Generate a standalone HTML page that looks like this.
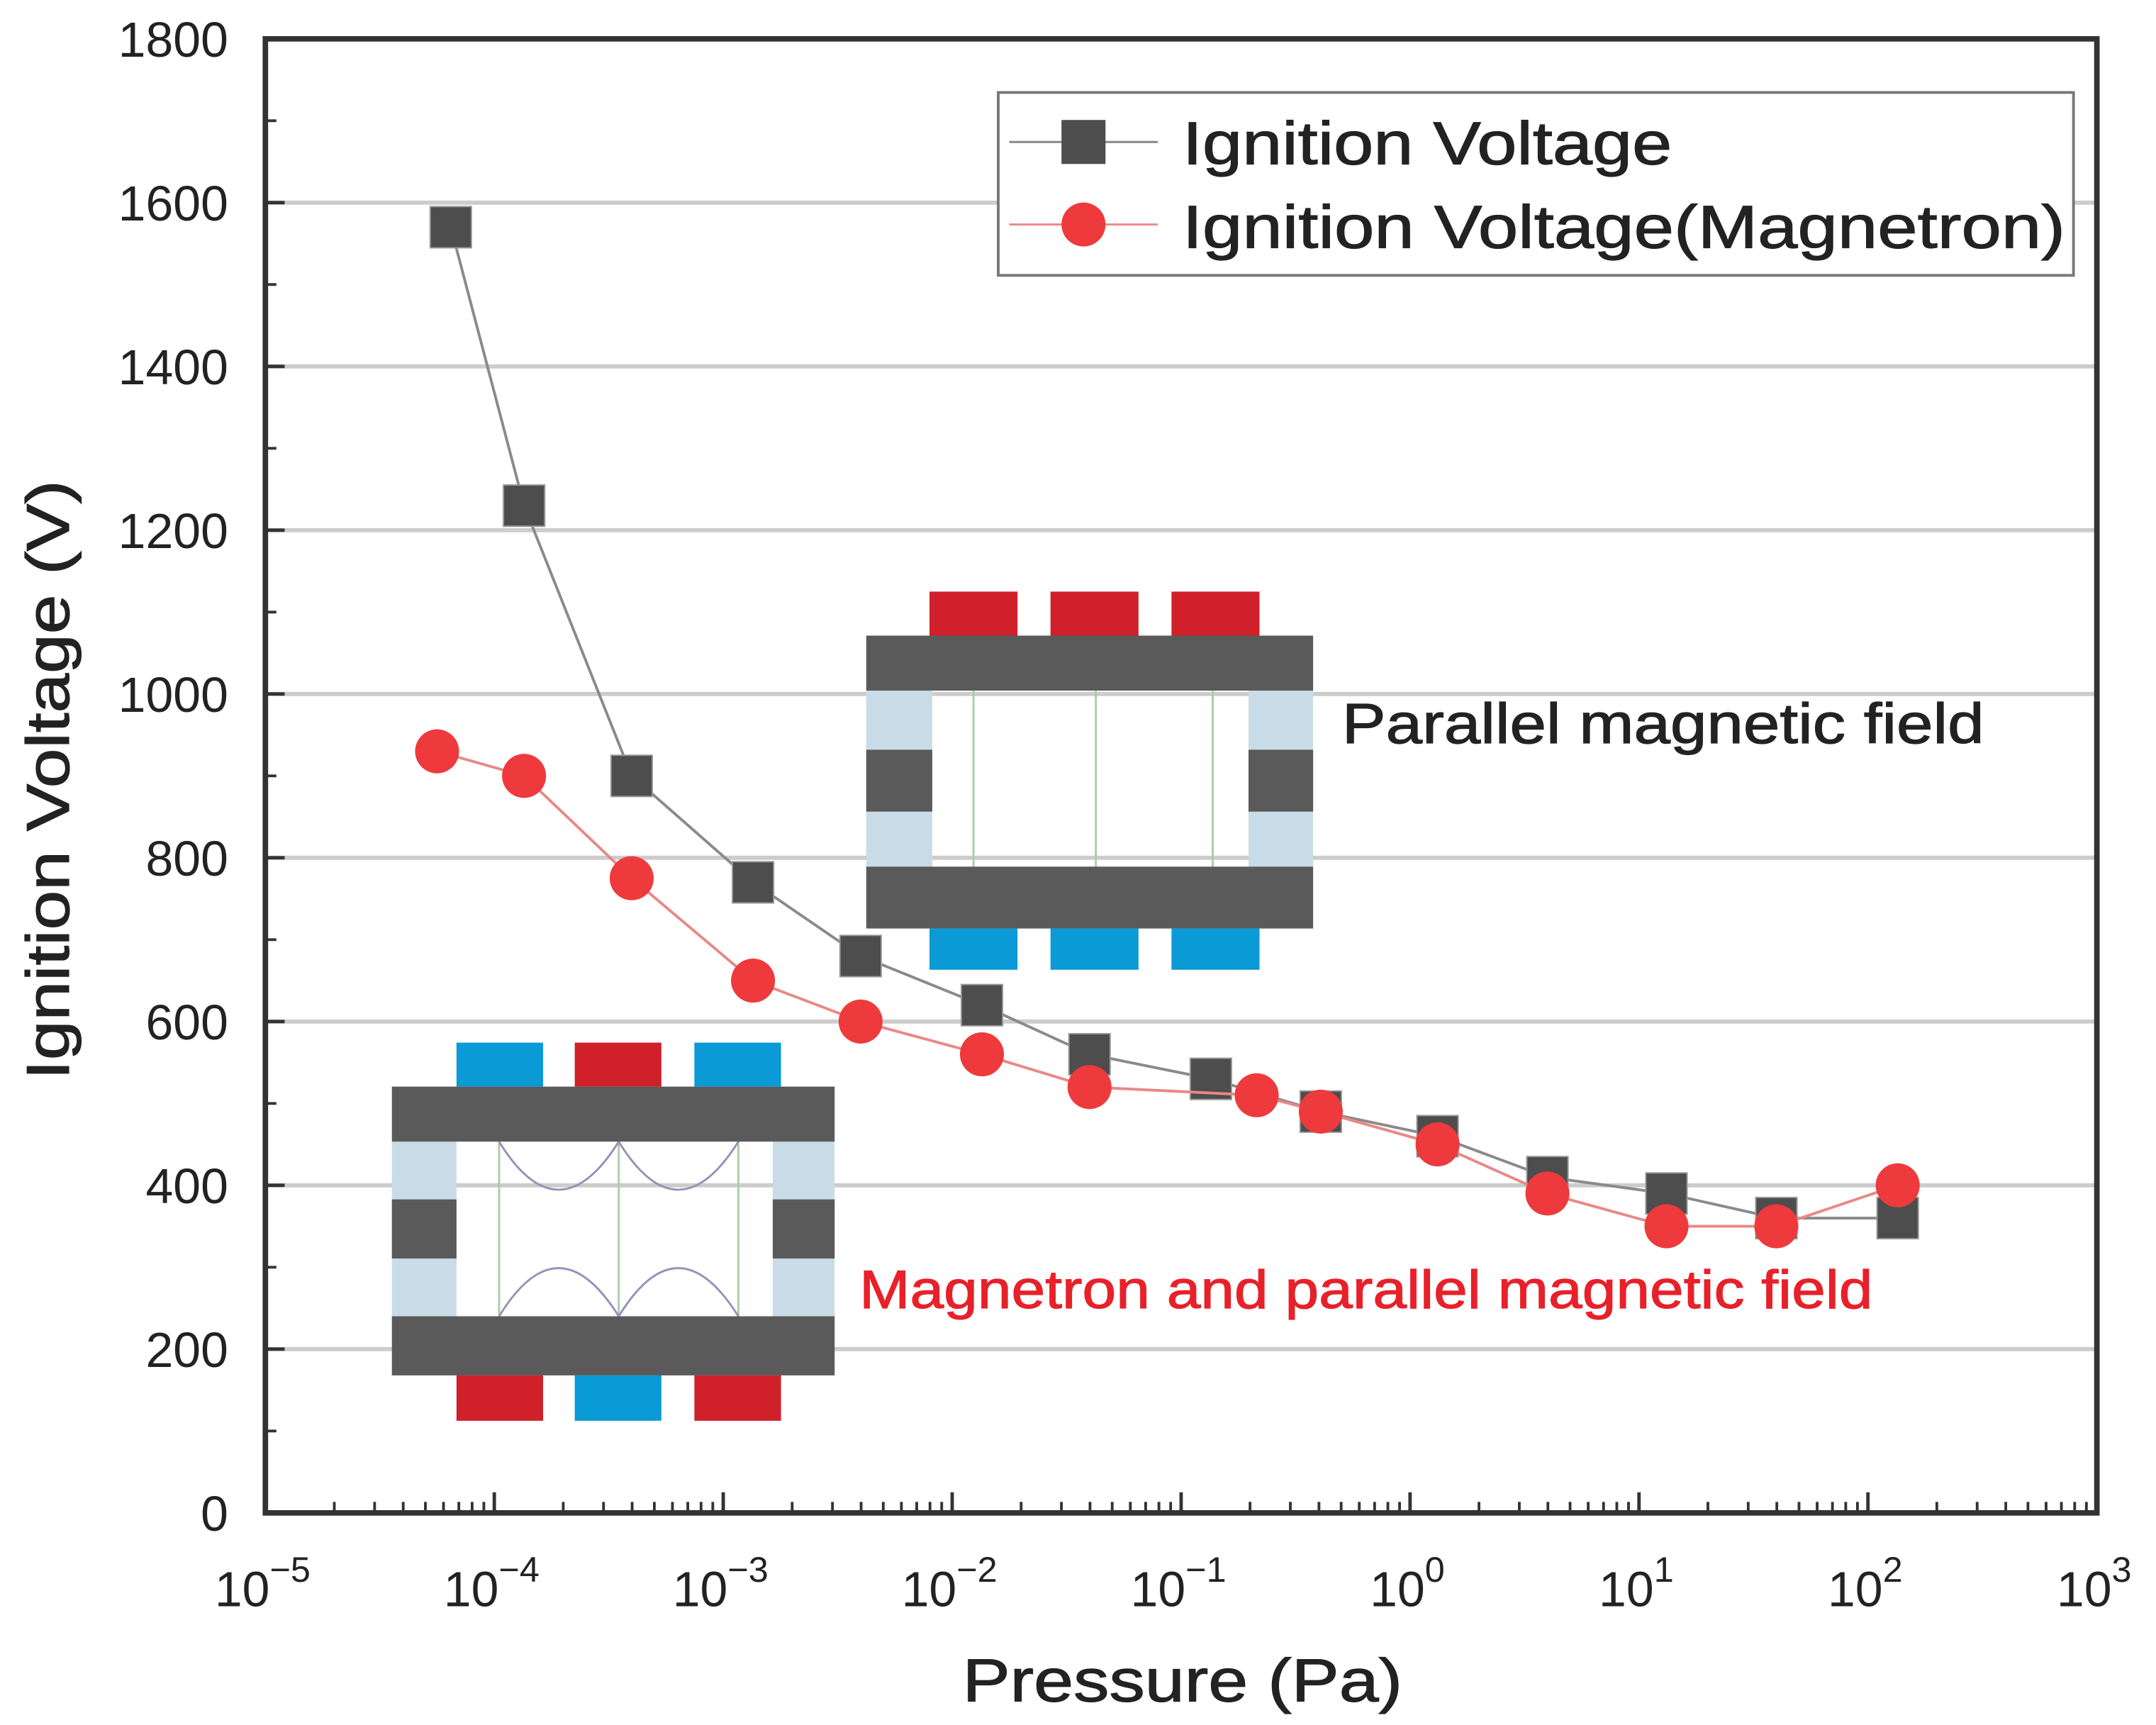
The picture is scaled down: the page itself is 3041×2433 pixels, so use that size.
<!DOCTYPE html>
<html><head><meta charset="utf-8"><style>
html,body{margin:0;padding:0;background:#fff;}
svg{display:block;font-family:"Liberation Sans","DejaVu Sans",sans-serif;}
</style></head><body>
<svg id="chart" width="3041" height="2433" viewBox="0 0 1568 1254" xmlns="http://www.w3.org/2000/svg">
<g id="grid"></g>
<g id="insets">
  <g>
    <rect x="630" y="502" width="48" height="128" fill="#c9dbe6"/>
    <rect x="908" y="502" width="47" height="128" fill="#c9dbe6"/>
    <rect x="630" y="545" width="48" height="45" fill="#5a5a5a"/>
    <rect x="908" y="545" width="47" height="45" fill="#5a5a5a"/>
    <line x1="708" y1="502" x2="708" y2="630" stroke="#a8cfa8" stroke-width="1.5"/>
    <line x1="797" y1="502" x2="797" y2="630" stroke="#a8cfa8" stroke-width="1.5"/>
    <line x1="882" y1="502" x2="882" y2="630" stroke="#a8cfa8" stroke-width="1.5"/>
    <rect x="630" y="462" width="325" height="40" fill="#5a5a5a"/>
    <rect x="630" y="630" width="325" height="45" fill="#5a5a5a"/>
    <rect x="676" y="430" width="64" height="32" fill="#d0202a"/>
    <rect x="764" y="430" width="64" height="32" fill="#d0202a"/>
    <rect x="852" y="430" width="64" height="32" fill="#d0202a"/>
    <rect x="676" y="675" width="64" height="30" fill="#0a9ad6"/>
    <rect x="764" y="675" width="64" height="30" fill="#0a9ad6"/>
    <rect x="852" y="675" width="64" height="30" fill="#0a9ad6"/>
  </g>
  <text x="976" y="540" font-size="41" fill="#222" stroke="#222" stroke-width="0.6" textLength="467" lengthAdjust="spacingAndGlyphs">Parallel magnetic field</text>
  <g>
    <rect x="285" y="830" width="47" height="127" fill="#c9dbe6"/>
    <rect x="562" y="830" width="45" height="127" fill="#c9dbe6"/>
    <rect x="285" y="872" width="47" height="43" fill="#5a5a5a"/>
    <rect x="562" y="872" width="45" height="43" fill="#5a5a5a"/>
    <line x1="363" y1="830" x2="363" y2="957" stroke="#a8cfa8" stroke-width="1.5"/>
    <line x1="450" y1="830" x2="450" y2="957" stroke="#a8cfa8" stroke-width="1.5"/>
    <line x1="537" y1="830" x2="537" y2="957" stroke="#a8cfa8" stroke-width="1.5"/>
    <path d="M363 830 Q406 900 450 830 M450 830 Q493 900 537 830 M363 957 Q406 887 450 957 M450 957 Q493 887 537 957" fill="none" stroke="#9a8fb8" stroke-width="1.5"/>
    <rect x="285" y="790" width="322" height="40" fill="#5a5a5a"/>
    <rect x="285" y="957" width="322" height="43" fill="#5a5a5a"/>
    <rect x="332" y="758" width="63" height="32" fill="#0a9ad6"/>
    <rect x="418" y="758" width="63" height="32" fill="#d0202a"/>
    <rect x="505" y="758" width="63" height="32" fill="#0a9ad6"/>
    <rect x="332" y="1000" width="63" height="33" fill="#d0202a"/>
    <rect x="418" y="1000" width="63" height="33" fill="#0a9ad6"/>
    <rect x="505" y="1000" width="63" height="33" fill="#d0202a"/>
  </g>
  <text x="625" y="951" font-size="39" fill="#e8202a" stroke="#e8202a" stroke-width="0.6" textLength="737" lengthAdjust="spacingAndGlyphs">Magnetron and parallel magnetic field</text>
</g>
<g id="series"></g>
<g id="axes"></g>
<g>
  <rect x="726" y="67" width="782" height="133" fill="#fff" stroke="#777" stroke-width="2"/>
  <line x1="734" y1="103" x2="842" y2="103" stroke="#888" stroke-width="1.5"/>
  <rect x="772" y="87" width="32" height="32" fill="#4d4d4d"/>
  <text x="860" y="119" font-size="44" fill="#222" stroke="#222" stroke-width="0.6" textLength="356" lengthAdjust="spacingAndGlyphs">Ignition Voltage</text>
  <line x1="734" y1="163" x2="842" y2="163" stroke="#e88" stroke-width="1.5"/>
  <circle cx="788" cy="163" r="16" fill="#ee3a3c"/>
  <text x="860" y="180" font-size="44" fill="#222" stroke="#222" stroke-width="0.6" textLength="642" lengthAdjust="spacingAndGlyphs">Ignition Voltage(Magnetron)</text>
</g>
<text transform="translate(50,567) rotate(-90)" text-anchor="middle" font-size="44" fill="#222" stroke="#222" stroke-width="0.6" textLength="436" lengthAdjust="spacingAndGlyphs">Ignition Voltage (V)</text>
<text x="860" y="1237" text-anchor="middle" font-size="44" fill="#222" stroke="#222" stroke-width="0.6" textLength="320" lengthAdjust="spacingAndGlyphs">Pressure (Pa)</text>
</svg>
<script>
const categoriesLogP1 = [-4.19,-3.87,-3.40,-2.87,-2.40,-1.87,-1.40,-0.87,-0.39,0.12,0.60,1.12,1.60,2.13];
const seriesIgnition = [1570,1230,900,770,680,620,560,530,490,460,410,390,360,360];
const categoriesLogP2 = [-4.25,-3.87,-3.40,-2.87,-2.40,-1.87,-1.40,-0.67,-0.39,0.12,0.60,1.12,1.60,2.13];
const seriesMagnetron = [930,900,775,650,600,560,520,510,490,450,390,350,350,400];
const yTicks = [0,200,400,600,800,1000,1200,1400,1600,1800];
const xDecades = [-5,-4,-3,-2,-1,0,1,2,3];

const NS="http://www.w3.org/2000/svg";
const L=193,R=1525,T=28,B=1100;
const xs=v=>L+(v-(-5))/8*(R-L);
const ys=v=>B-v/1800*(B-T);
function mk(tag,attrs,parent){const e=document.createElementNS(NS,tag);for(const k in attrs)e.setAttribute(k,attrs[k]);parent.appendChild(e);return e;}
const grid=document.getElementById('grid'),axes=document.getElementById('axes'),series=document.getElementById('series');
yTicks.forEach(t=>{
  if(t>0&&t<1800){const g=mk('line',{x1:L,x2:R,y1:ys(t),y2:ys(t),stroke:'#cccccc','stroke-width':3},grid);
  
  }
  mk('line',{x1:L,x2:L+14,y1:ys(t),y2:ys(t),stroke:'#333','stroke-width':2.5},axes);
  if(t<1800){const ym=ys(t+100);mk('line',{x1:L,x2:L+8,y1:ym,y2:ym,stroke:'#333','stroke-width':2},axes);}
  const tx=mk('text',{x:166,y:ys(t)+13,'text-anchor':'end','font-size':36,fill:'#222'},axes);
  tx.textContent=t;
  
  
});
xDecades.forEach((d,i)=>{
  const x=xs(d);
  mk('line',{x1:x,x2:x,y1:B,y2:B-15,stroke:'#333','stroke-width':2.5},axes);
  if(i<xDecades.length-1){for(let m=2;m<=9;m++){const xm=xs(d+Math.log10(m));mk('line',{x1:xm,x2:xm,y1:B,y2:B-8,stroke:'#333','stroke-width':2},axes);}}
  const tx=mk('text',{x:x-2,y:1168,'text-anchor':'middle','font-size':36,fill:'#222'},axes);
  
  
  const a=mk('tspan',{},tx);a.textContent='10';
  const s=mk('tspan',{dy:-18,'font-size':26},tx);s.textContent=String(d).replace('-','\u2212');
});
mk('rect',{x:L,y:T,width:R-L,height:B-T,fill:'none',stroke:'#333','stroke-width':4},axes);

function drawSeries(xsArr,vals,color,line,shape,name){
  const pts=xsArr.map((v,i)=>[xs(v),ys(vals[i])]);
  const pl=mk('polyline',{points:pts.map(p=>p.join(',')).join(' '),fill:'none',stroke:line,'stroke-width':2},series);
  
  
  pts.forEach((p,i)=>{
    let e;
    if(shape==='sq')e=mk('rect',{x:p[0]-15,y:p[1]-15,width:30,height:30,fill:color,stroke:'#999','stroke-width':1},series);
    else e=mk('circle',{cx:p[0],cy:p[1],r:16,fill:color},series);
    
    
  });
}
drawSeries(categoriesLogP1,seriesIgnition,'#4d4d4d','#8a8a8a','sq','ignition-voltage');
drawSeries(categoriesLogP2,seriesMagnetron,'#ee3a3c','#e88888','ci','magnetron-voltage');
</script>
</body></html>
